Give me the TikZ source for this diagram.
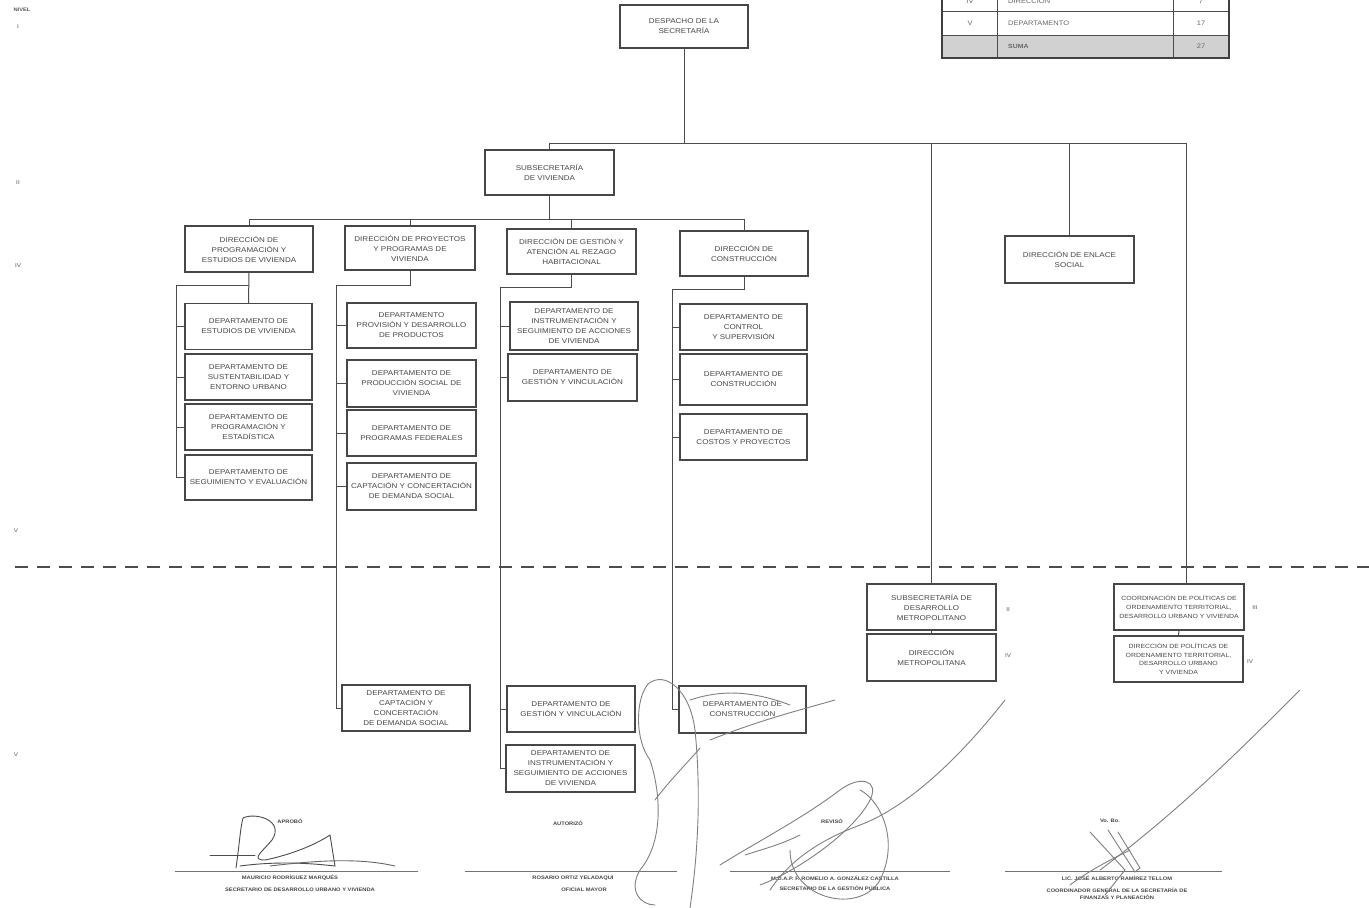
\documentclass[tikz,border=0pt]{standalone}
\usepackage{fontspec}
\setmainfont[FakeStretch=1.15]{Liberation Sans}
\begin{document}
\begin{tikzpicture}[x=1pt,y=-1pt,
  box/.style={draw=black!72, line width=1.1pt, fill=white, align=center, text=black!72,
    font=\fontsize{7}{10}\selectfont, inner sep=1pt, minimum width=128pt, minimum height=46pt},
  ln/.style={draw=black!70, line width=1pt},
  lbl/.style={text=black!65, font=\fontsize{5.5}{7}\selectfont, inner sep=0pt},
  sig/.style={draw=black!55, line width=0.8pt},
  scrib/.style={draw=black!50, line width=0.9pt, line cap=round},
  tbl/.style={text=black!60, font=\fontsize{6.5}{8}\selectfont, inner sep=0pt}]
\useasboundingbox[fill=white] (0,0) rectangle (1369,908);

% ---------- top levels ----------
\node[box, minimum width=128pt, minimum height=43pt] (desp) at (684,26.5) {DESPACHO DE LA\\SECRETARÍA};
\node[box, minimum width=129pt, minimum height=45pt] (sub) at (549.5,172.5) {SUBSECRETARÍA\\DE VIVIENDA};

% ---------- direcciones ----------
\node[box] (dprog) at (249,249) {DIRECCIÓN DE\\PROGRAMACIÓN Y\\ESTUDIOS DE VIVIENDA};
\node[box, minimum width=130pt, minimum height=44pt] (dproy) at (410,248) {DIRECCIÓN DE PROYECTOS\\Y PROGRAMAS DE\\VIVIENDA};
\node[box, minimum width=129pt, minimum height=45pt] (dges) at (571.5,251.5) {DIRECCIÓN DE GESTIÓN Y\\ATENCIÓN AL REZAGO\\HABITACIONAL};
\node[box, minimum height=45pt] (dcon) at (744,253.5) {DIRECCIÓN DE\\CONSTRUCCIÓN};
\node[box, minimum width=129pt, minimum height=47pt] (denl) at (1069.5,259.5) {DIRECCIÓN DE ENLACE\\SOCIAL};

% ---------- column 1 ----------
\node[box, minimum width=127pt, minimum height=46pt] (a1) at (248.5,326.5) {DEPARTAMENTO DE\\ESTUDIOS DE VIVIENDA};
\node[box, minimum width=127pt, minimum height=46pt] (a2) at (248.5,377) {DEPARTAMENTO DE\\SUSTENTABILIDAD Y\\ENTORNO URBANO};
\node[box, minimum width=127pt, minimum height=46pt] (a3) at (248.5,427) {DEPARTAMENTO DE\\PROGRAMACIÓN Y\\ESTADÍSTICA};
\node[box, minimum width=127pt, minimum height=45pt] (a4) at (248.5,477.5) {DEPARTAMENTO DE\\SEGUIMIENTO Y EVALUACIÓN};

% ---------- column 2 ----------
\node[box, minimum width=129pt, minimum height=45pt] (b1) at (411.5,325.5) {DEPARTAMENTO\\PROVISIÓN Y DESARROLLO\\DE PRODUCTOS};
\node[box, minimum width=129pt, minimum height=47pt] (b2) at (411.5,383.5) {DEPARTAMENTO DE\\PRODUCCIÓN SOCIAL DE\\VIVIENDA};
\node[box, minimum width=129pt, minimum height=46pt] (b3) at (411.5,433) {DEPARTAMENTO DE\\PROGRAMAS FEDERALES};
\node[box, minimum width=129pt, minimum height=47pt] (b4) at (411.5,486.5) {DEPARTAMENTO DE\\CAPTACIÓN Y CONCERTACIÓN\\DE DEMANDA SOCIAL};
\node[box, minimum width=128pt, minimum height=46pt] (b5) at (406,708) {DEPARTAMENTO DE\\CAPTACIÓN Y\\CONCERTACIÓN\\DE DEMANDA SOCIAL};

% ---------- column 3 ----------
\node[box, minimum width=128pt, minimum height=48pt] (c1) at (574,326) {DEPARTAMENTO DE\\INSTRUMENTACIÓN Y\\SEGUIMIENTO DE ACCIONES\\DE VIVIENDA};
\node[box, minimum width=129pt, minimum height=47pt] (c2) at (572.5,377.5) {DEPARTAMENTO DE\\GESTIÓN Y VINCULACIÓN};
\node[box, minimum width=128pt, minimum height=46pt] (c3) at (571,709) {DEPARTAMENTO DE\\GESTIÓN Y VINCULACIÓN};
\node[box, minimum width=129pt, minimum height=47pt] (c4) at (570.5,768.5) {DEPARTAMENTO DE\\INSTRUMENTACIÓN Y\\SEGUIMIENTO DE ACCIONES\\DE VIVIENDA};

% ---------- column 4 ----------
\node[box, minimum width=127pt, minimum height=46pt] (e1) at (743.5,327) {DEPARTAMENTO DE\\CONTROL\\Y SUPERVISIÓN};
\node[box, minimum width=127pt, minimum height=51pt] (e2) at (743.5,379.5) {DEPARTAMENTO DE\\CONSTRUCCIÓN};
\node[box, minimum width=127pt, minimum height=46pt] (e3) at (743.5,437) {DEPARTAMENTO DE\\COSTOS Y PROYECTOS};
\node[box, minimum width=127pt, minimum height=47pt] (e4) at (742.5,709.5) {DEPARTAMENTO DE\\CONSTRUCCIÓN};

% ---------- right side ----------
\node[box, minimum width=129pt, minimum height=46pt] (sdm) at (931.5,607) {SUBSECRETARÍA DE\\DESARROLLO\\METROPOLITANO};
\node[box, minimum width=129pt, minimum height=47pt] (dmet) at (931.5,657.5) {DIRECCIÓN\\METROPOLITANA};
\node[box, minimum width=130pt, minimum height=46pt, font=\fontsize{6}{8.6}\selectfont] (coord) at (1179,607) {COORDINACIÓN DE POLÍTICAS DE\\ORDENAMIENTO TERRITORIAL,\\DESARROLLO URBANO Y VIVIENDA};
\node[box, minimum width=129pt, minimum height=46pt, font=\fontsize{6}{8.6}\selectfont] (dpol) at (1178.5,659) {DIRECCIÓN DE POLÍTICAS DE\\ORDENAMIENTO TERRITORIAL,\\DESARROLLO URBANO\\Y VIVIENDA};

% ---------- bus coordinates ----------
\coordinate (y1) at (0,143);
\coordinate (y2) at (0,219);
\coordinate (ya) at (0,285);
\coordinate (yb) at (0,285);
\coordinate (yc) at (0,287);
\coordinate (yd) at (0,289);
\coordinate (xa) at (176,0);
\coordinate (xb) at (336,0);
\coordinate (xc) at (500,0);
\coordinate (xd) at (672,0);
\coordinate (xr) at (1186,0);

% top bus
\draw[ln] (desp.south) -- (desp.south |- y1);
\draw[ln] (sub.north) -- (sub.north |- y1) -- (xr |- y1) -- (xr |- coord.north);
\draw[ln] (sdm.north |- y1) -- (sdm.north);
\draw[ln] (denl.north |- y1) -- (denl.north);

% direcciones bus
\draw[ln] (sub.south) -- (sub.south |- y2);
\draw[ln] (dprog.north) -- (dprog.north |- y2) -- (dcon.north |- y2) -- (dcon.north);
\draw[ln] (dproy.north) -- (dproy.north |- y2);
\draw[ln] (dges.north) -- (dges.north |- y2);

% column 1
\draw[ln] (dprog.south) -- (a1.north);
\draw[ln] (dprog.south |- ya) -- (xa |- ya) -- (xa |- a4.west) -- (a4.west);
\foreach \n in {a1,a2,a3} \draw[ln] (xa |- \n.west) -- (\n.west);

% column 2
\draw[ln] (dproy.south) -- (dproy.south |- yb) -- (xb |- yb) -- (xb |- b5.west) -- (b5.west);
\foreach \n in {b1,b2,b3,b4} \draw[ln] (xb |- \n.west) -- (\n.west);

% column 3
\draw[ln] (dges.south) -- (dges.south |- yc) -- (xc |- yc) -- (xc |- c4.west) -- (c4.west);
\foreach \n in {c1,c2,c3} \draw[ln] (xc |- \n.west) -- (\n.west);

% column 4
\draw[ln] (dcon.south) -- (dcon.south |- yd) -- (xd |- yd) -- (xd |- e4.west) -- (e4.west);
\foreach \n in {e1,e2,e3} \draw[ln] (xd |- \n.west) -- (\n.west);

% right chains
\draw[ln] (sdm.south) -- (dmet.north);
\draw[ln] (coord.south) -- (dpol.north);

% ---------- dashed separator ----------
\coordinate (dl) at (15,567);
\coordinate (dr) at (1369,567);
\draw[draw=black!70, line width=2.6pt, dash pattern=on 13pt off 9pt] (dl) -- (dr);

% ---------- level marks ----------
\node[lbl, font=\bfseries\fontsize{5}{6}\selectfont] (nivel) at (22,10) {NIVEL};
\node[lbl] (m0) at (18,27) {I};
\node[lbl] (m1) at (18,183) {II};
\node[lbl] (m2) at (18,266) {IV};
\node[lbl] (m3) at (16,531) {V};
\node[lbl] (m4) at (16,755) {V};
\node[lbl] (r1) at (1008,610) {II};
\node[lbl] (r2) at (1008,656) {IV};
\node[lbl] (r3) at (1255,608) {III};
\node[lbl] (r4) at (1250,662) {IV};

% ---------- summary table ----------
\fill[black!18] (942,35) rectangle (1229,57);
\draw[black!70, line width=0.8pt] (942,11) -- (1229,11) (942,35) -- (1229,35) (997,-2) -- (997,57) (1173,-2) -- (1173,57);
\draw[black!75, line width=2pt] (942,-2) -- (942,58) -- (1229,58) -- (1229,-2);
\node[tbl] (t1a) at (970,1) {IV};
\node[tbl, anchor=west] (t1b) at (1008,1) {DIRECCIÓN};
\node[tbl] (t1c) at (1201,1) {7};
\node[tbl] (t2a) at (970,23) {V};
\node[tbl, anchor=west] (t2b) at (1008,23) {DEPARTAMENTO};
\node[tbl] (t2c) at (1201,23) {17};
\node[tbl, anchor=west, font=\bfseries\fontsize{6}{8}\selectfont] (t3b) at (1008,46) {SUMA};
\node[tbl] (t3c) at (1201,46) {27};

% ---------- signature blocks ----------
\tikzset{sgt/.style={text=black!72, font=\bfseries\fontsize{5}{6.5}\selectfont, inner sep=0pt, align=center}}
% 1
\draw[sig] (175,871) -- (418,871);
\node[sgt] (s1h) at (290,821) {APROBÓ};
\node[sgt] (s1n) at (290,878) {MAURICIO RODRÍGUEZ MARQUÉS};
\node[sgt] (s1t) at (300,890) {SECRETARIO DE DESARROLLO URBANO Y VIVIENDA};
% 2
\draw[sig] (465,871) -- (677,871);
\node[sgt] (s2h) at (568,823) {AUTORIZÓ};
\node[sgt] (s2n) at (573,878) {ROSARIO ORTIZ YELADAQUI};
\node[sgt] (s2t) at (584,890) {OFICIAL MAYOR};
% 3
\draw[sig] (730,871) -- (950,871);
\node[sgt] (s3h) at (832,821) {REVISÓ};
\node[sgt] (s3n) at (835,878) {M.D.A.P. F. ROMELIO A. GONZÁLEZ CASTILLA};
\node[sgt] (s3t) at (835,888) {SECRETARIO DE LA GESTIÓN PÚBLICA};
% 4
\draw[sig] (1005,871) -- (1222,871);
\node[sgt] (s4h) at (1110,821) {Vo. Bo.};
\node[sgt] (s4n) at (1117,878) {LIC. JOSÉ ALBERTO RAMÍREZ TELLOM};
\node[sgt] (s4t) at (1117,894) {COORDINADOR GENERAL DE LA SECRETARÍA DE\\FINANZAS Y PLANEACIÓN};

% ---------- handwritten signatures (approximate strokes) ----------
% 1
\draw[scrib, black!70] (210,855) -- (255,855);
\draw[scrib, black!70] (236,868) .. controls (240,840) and (240,830) .. (243,818) .. controls (255,812) and (285,820) .. (272,840) .. controls (262,852) and (250,860) .. (265,860) .. controls (290,855) and (315,845) .. (330,835) -- (335,866) .. controls (300,862) and (270,862) .. (240,866);
\draw[scrib, black!60] (270,866) .. controls (320,860) and (360,858) .. (395,866);
% 2 big loop
\draw[scrib] (648,684) .. controls (635,700) and (635,740) .. (650,760) .. controls (660,790) and (665,840) .. (640,870) .. controls (628,890) and (640,905) .. (655,905);
\draw[scrib] (648,684) .. controls (665,670) and (690,690) .. (695,730) .. controls (700,780) and (700,840) .. (690,908);
\draw[scrib] (655,800) .. controls (670,780) and (690,760) .. (700,748);
\draw[scrib] (690,700) .. controls (720,690) and (750,690) .. (790,705);
\draw[scrib] (710,740) .. controls (760,720) and (800,710) .. (835,700);
% 3
\draw[scrib] (720,865) .. controls (760,840) and (800,820) .. (840,790) .. controls (860,775) and (880,780) .. (870,800) .. controls (855,830) and (800,870) .. (760,885);
\draw[scrib] (770,890) .. controls (790,860) and (820,840) .. (860,825) .. controls (900,810) and (950,770) .. (1005,700);
\draw[scrib] (790,850) .. controls (790,900) and (860,915) .. (880,880) .. controls (900,840) and (880,800) .. (860,790);
\draw[scrib] (745,855) .. controls (760,850) and (780,845) .. (800,835);
% 4
\draw[scrib] (1100,870) .. controls (1180,810) and (1240,750) .. (1300,690);
\draw[scrib] (1090,832) -- (1125,870) -- (1105,895);
\draw[scrib] (1108,830) -- (1135,872) -- (1140,868) -- (1118,832);
\draw[scrib] (1070,885) .. controls (1090,870) and (1110,860) .. (1130,850);
\end{tikzpicture}
\end{document}
